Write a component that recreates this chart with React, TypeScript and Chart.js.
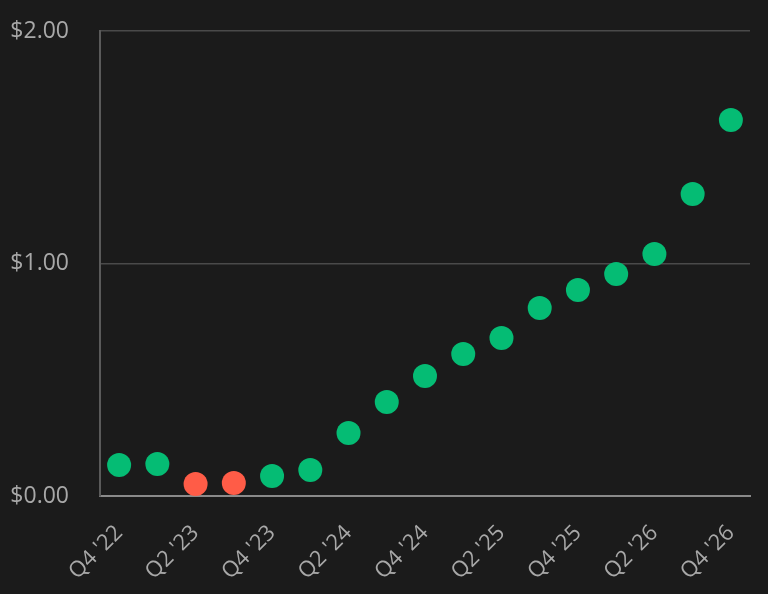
import React, { useEffect, useRef } from "react";
import { Chart, registerables } from "chart.js";

Chart.register(...registerables);

const quarters = [
  "Q4 '22", "Q1 '23", "Q2 '23", "Q3 '23", "Q4 '23", "Q1 '24", "Q2 '24", "Q3 '24",
  "Q4 '24", "Q1 '25", "Q2 '25", "Q3 '25", "Q4 '25", "Q1 '26", "Q2 '26", "Q3 '26", "Q4 '26",
];
const eps = [0.133, 0.138, 0.052, 0.056, 0.086, 0.112, 0.271, 0.404, 0.516, 0.611, 0.68, 0.809, 0.886, 0.955, 1.041, 1.299, 1.617];
const direction = ["up", "up", "down", "down", "up", "up", "up", "up", "up", "up", "up", "up", "up", "up", "up", "up", "up"];
const yTicks = [0, 1, 2];

const GREEN = "#05bc74";
const RED = "#ff5c47";
const FONT = "'Open Sans', sans-serif";

export default function App() {
  const ref = useRef<HTMLCanvasElement | null>(null);
  useEffect(() => {
    document.body.style.margin = "0";
    document.body.style.background = "#1b1b1b";
    const colors = direction.map((d) => (d === "up" ? GREEN : RED));
    const chart = new Chart(ref.current!, {
      type: "line",
      data: {
        labels: quarters,
        datasets: [
          {
            data: eps,
            showLine: false,
            pointRadius: 12,
            pointHoverRadius: 12,
            pointBackgroundColor: colors,
            pointBorderColor: colors,
            pointBorderWidth: 0,
          },
        ],
      },
      options: {
        animation: false,
        responsive: false,
        maintainAspectRatio: false,
        layout: { padding: { top: 31, right: 18, left: 0, bottom: 0 } },
        plugins: { legend: { display: false }, tooltip: { enabled: false } },
        scales: {
          x: {
            offset: true,
            grid: { display: false, drawTicks: false },
            border: { color: "#8a8a8a", width: 2 },
            afterFit: (axis) => {
              axis.height = 98;
              axis.paddingLeft = 0;
              axis.paddingRight = 0;
            },
            ticks: {
              color: "#a8a8a8",
              font: { family: FONT, size: 22 },
              minRotation: 45,
              maxRotation: 45,
              autoSkip: false,
              padding: 24,
              callback: (_v, i) => (i % 2 === 0 ? quarters[i] : ""),
            },
          },
          y: {
            min: 0,
            max: 2,
            afterBuildTicks: (axis) => {
              axis.ticks = yTicks.map((v) => ({ value: v }));
            },
            afterFit: (axis) => {
              axis.width = 100;
              axis.paddingTop = 0;
              axis.paddingBottom = 0;
            },
            grid: { color: "#4a4a4a", lineWidth: 1.5, drawTicks: false },
            border: { color: "#5a5a5a", width: 2 },
            ticks: {
              color: "#a8a8a8",
              font: { family: FONT, size: 23 },
              padding: 31,
              callback: (v) => "$" + Number(v).toFixed(2),
            },
          },
        },
      },
    });
    return () => chart.destroy();
  }, []);
  return (
    <div style={{ width: 768, height: 594, background: "#1b1b1b" }}>
      <canvas ref={ref} width={768} height={594} style={{ display: "block" }} />
    </div>
  );
}
